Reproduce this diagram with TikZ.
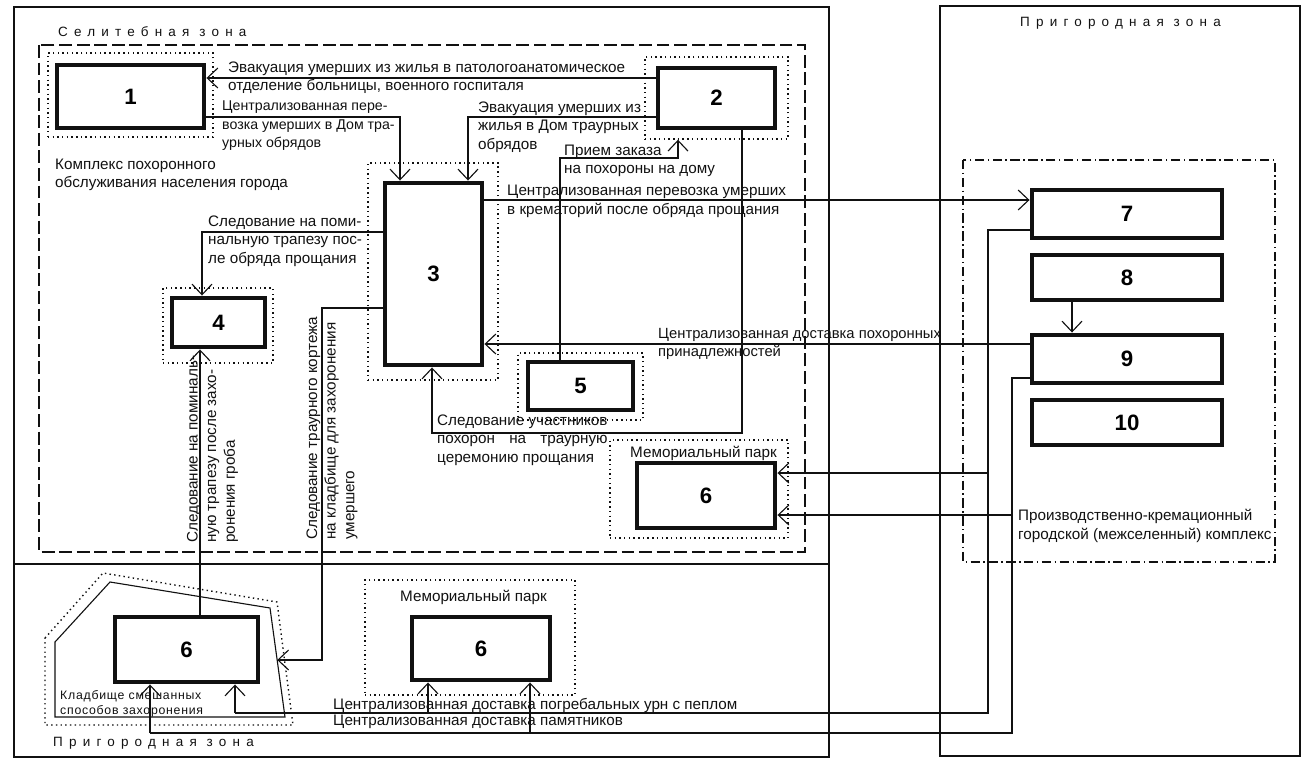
\documentclass[tikz,border=0pt]{standalone}
\usepackage{fontspec}
\setmainfont{Liberation Sans}
\usepackage{calc}
\usepackage{tikz}
\usetikzlibrary{arrows.meta, positioning, calc, fit}
\definecolor{cINK}{HTML}{111111}

\begin{document}
\begin{tikzpicture}[
  x=0.03cm, y=-0.03cm,
  font=\fontsize{13}{15.8}\selectfont,
  unitbox/.style={draw=cINK, line width=4.2pt, inner sep=0pt, font=\fontsize{19}{22}\selectfont\bfseries},
  dotbox/.style={draw=cINK, line width=1.2pt, dash pattern=on 1.2pt off 2.8pt, inner sep=0pt},
  zoneframe/.style={draw=cINK, line width=1.3pt},
  cmplx/.style={draw=cINK, line width=1.3pt, dash pattern=on 11pt off 4pt},
  crem/.style={draw=cINK, line width=1.2pt, dash pattern=on 8pt off 3pt on 1.2pt off 3pt},
  lbl/.style={inner sep=0pt, align=left, anchor=west, text=cINK},
  zonetxt/.style={inner sep=0pt, anchor=west, text=cINK, font=\fontsize{11.5}{13}\selectfont\addfontfeature{LetterSpace=46}},
  wire/.style={draw=cINK, line width=0.95pt},
  arr/.style={wire, -{Straight Barb[length=9pt, width=17pt]}}
]
\useasboundingbox (0,0) rectangle (1314,761);

% zones
\draw[zoneframe] (14,7) rectangle (829,757);
\draw[zoneframe] (14,564) -- (829,564);
\draw[zoneframe] (940,6) rectangle (1300,756);
\node[zonetxt] (zsel) at (58,32) {Селитебная зона};
\node[zonetxt] (zprl) at (53,743) {Пригородная зона};
\node[zonetxt] (zprr) at (1020,23) {Пригородная зона};

\draw[cmplx] (39,45) rectangle (805,552);
\draw[crem] (963,160) rectangle (1275,562);

% dotted surrounds
\node[dotbox, fit={(48,53) (213,137)}] (d1) {};
\node[dotbox, fit={(645,57) (788,139)}] (d2) {};
\node[dotbox, fit={(368,163) (498,380)}] (d3) {};
\node[dotbox, fit={(163,288) (273,363)}] (d4) {};
\node[dotbox, fit={(518,353) (643,420)}] (d5) {};
\node[dotbox, fit={(610,440) (788,538)}] (d6a) {};
\node[dotbox, fit={(365,580) (575,695)}] (d6c) {};

% cemetery outline
\draw[dotbox] (45,638) -- (103,573) -- (277,602) -- (293,725) -- (45,725) -- cycle;
\draw[wire] (55,642) -- (110,582) -- (270,608) -- (285,717) -- (55,717) -- cycle;
\coordinate (kp) at (277.2,660);

% units
\node[unitbox, minimum width=4.41cm, minimum height=1.89cm] (b1) at (130.5,96.5) {1};
\node[unitbox, minimum width=3.51cm, minimum height=1.8cm] (b2) at (716.5,98) {2};
\node[unitbox, minimum width=2.91cm, minimum height=5.46cm] (b3) at (433.5,274) {3};
\node[unitbox, minimum width=2.79cm, minimum height=1.47cm] (b4) at (218.5,322.5) {4};
\node[unitbox, minimum width=3.15cm, minimum height=1.44cm] (b5) at (580.5,386) {5};
\node[unitbox, minimum width=4.14cm, minimum height=1.95cm] (b6a) at (706,495.5) {6};
\node[unitbox, minimum width=4.29cm, minimum height=1.95cm] (b6k) at (186.5,649.5) {6};
\node[unitbox, minimum width=4.14cm, minimum height=1.89cm] (b6c) at (481,648.5) {6};
\node[unitbox, minimum width=5.7cm, minimum height=1.44cm] (b7) at (1127,214) {7};
\node[unitbox, minimum width=5.7cm, minimum height=1.35cm] (b8) at (1127,277.5) {8};
\node[unitbox, minimum width=5.7cm, minimum height=1.44cm] (b9) at (1127,359) {9};
\node[unitbox, minimum width=5.7cm, minimum height=1.35cm] (b10) at (1127,422.5) {10};

% bends
\coordinate (r21) at (430,78);
\coordinate (c12) at (400,117);
\coordinate (c23) at (468,117);
\coordinate (r5) at (560,158);
\coordinate (r52) at (678,158);
\coordinate (r37) at (700,200);
\coordinate (r34) at (202,232);
\coordinate (r3k) at (322,308);
\coordinate (r64) at (200,500);
\coordinate (r93) at (700,344);
\coordinate (r23b) at (742,433);
\coordinate (l23b) at (432,433);
\coordinate (r89) at (1072,320);
\coordinate (t7a) at (988,230);
\coordinate (t7b) at (988,473);
\coordinate (t7) at (988,713);
\coordinate (u6c) at (428,713);
\coordinate (u6k) at (235,713);
\coordinate (t9a) at (1012,378);
\coordinate (t9b) at (1012,515);
\coordinate (t9) at (1012,733);
\coordinate (m6c) at (530,733);
\coordinate (m6k) at (150,733);

% connectors
\draw[arr] (b2.west |- r21) -- (b1.east |- r21);
\draw[arr] (b1.east |- c12) -- (c12) -- (c12 |- b3.north);
\draw[arr] (b2.west |- c23) -- (c23) -- (c23 |- b3.north);
\draw[arr] (r5 |- b5.north) |- (r52) -- (r52 |- d2.south);
\draw[arr] (b3.east |- r37) -- (b7.west |- r37);
\draw[arr] (b3.west |- r34) -- (r34) -- (r34 |- b4.north);
\draw[arr] (b3.west |- r3k) -- (r3k) |- (kp);
\draw[arr] (r64 |- b6k.north) -- (r64 |- b4.south);
\draw[arr] (b9.west |- r93) -- (b3.east |- r93);
\draw[arr] (r23b |- b2.south) -- (r23b) -- (l23b) -- (l23b |- b3.south);
\draw[arr] (r89 |- b8.south) -- (r89 |- b9.north);

\draw[wire] (b7.west |- t7a) -- (t7a) -- (t7) -- (u6k);
\draw[arr] (t7b) -- (b6a.east |- t7b);
\draw[arr] (u6c) -- (u6c |- b6c.south);
\draw[arr] (u6k) -- (u6k |- b6k.south);
\draw[wire] (b9.west |- t9a) -- (t9a) -- (t9) -- (m6k);
\draw[arr] (t9b) -- (b6a.east |- t9b);
\draw[arr] (m6c) -- (m6c |- b6c.south);
\draw[arr] (m6k) -- (m6k |- b6k.south);

% labels
\node[lbl] (lb21) at (228,77.5) {Эвакуация умерших из жилья в патологоанатомическое\\отделение больницы, военного госпиталя};
\node[lbl, font=\fontsize{12.1}{15.8}\selectfont] (lb13) at (222,126) {Централизованная пере-\\возка умерших в Дом тра-\\урных обрядов};
\node[lbl] (lb23) at (478,127) {Эвакуация умерших из\\жилья в Дом траурных\\обрядов};
\node[lbl] (lb52) at (564,161) {Прием заказа\\на похороны на дому};
\node[lbl] (lb37) at (507,201.5) {Централизованная перевозка умерших\\в крематорий после обряда прощания};
\node[lbl] (lb34) at (208,241) {Следование на поми-\\нальную трапезу пос-\\ле обряда прощания};
\node[lbl, font=\fontsize{12.6}{15.8}\selectfont] (lb93) at (658,344) {Централизованная доставка похоронных\\принадлежностей};
\node[lbl] (lb23b) at (437,440) {Следование участников\\\makebox[\widthof{Следование участников}][s]{похорон на траурную}\\церемонию прощания};
\node[lbl, rotate=90] (lbk) at (332,540) {Следование траурного кортежа\\на кладбище для захоронения\\умершего};
\node[lbl, rotate=90] (lb64) at (212.5,543) {Следование на поминаль-\\ную трапезу после захо-\\ронения гроба};
\node[lbl] (lburn) at (333,705) {Централизованная доставка погребальных урн с пеплом};
\node[lbl] (lbmon) at (333,722) {Централизованная доставка памятников};
\node[lbl] (lbcx) at (55,175) {Комплекс похоронного\\обслуживания населения города};
\node[lbl] (lbcr) at (1018,526) {Производственно-кремационный\\городской (межселенный) комплекс};
\node[lbl] (lbpa) at (630,453) {Мемориальный парк};
\node[lbl] (lbpc) at (400,597) {Мемориальный парк};
\node[lbl, font=\fontsize{10.5}{12.5}\selectfont\addfontfeature{LetterSpace=6}] (lbkl) at (60,703.5) {Кладбище смешанных\\способов захоронения};
\end{tikzpicture}
\end{document}
